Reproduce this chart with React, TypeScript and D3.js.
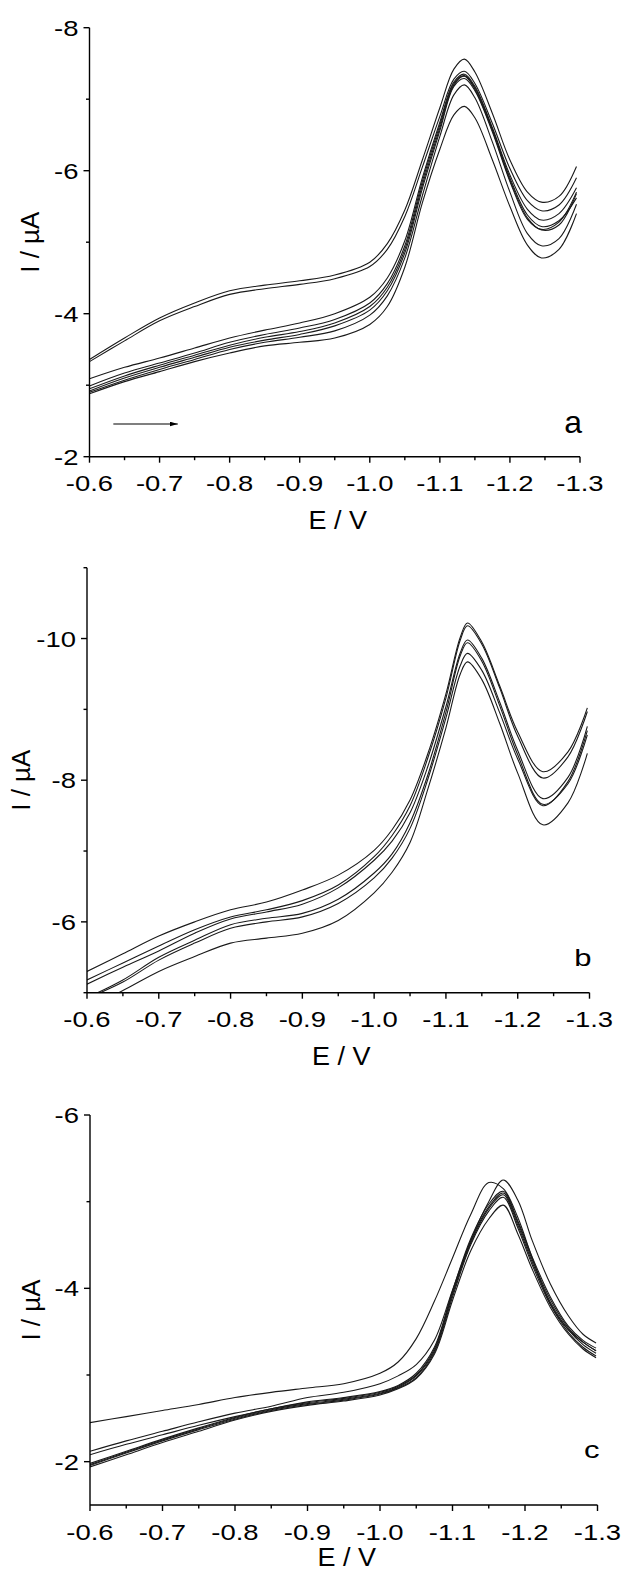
import React from "react";
import * as d3 from "d3";

// potentials (V) - the x axis runs from -0.6 to -1.3
const xMajor = [-0.6, -0.7, -0.8, -0.9, -1.0, -1.1, -1.2, -1.3];
const xMinor = [-0.65, -0.75, -0.85, -0.95, -1.05, -1.15, -1.25];

// panel a: 8 scans, current in uA
const gridA = [-0.6, -0.65, -0.7, -0.75, -0.8, -0.85, -0.9, -0.95, -1.0, -1.025, -1.05, -1.075, -1.1, -1.12, -1.135, -1.15, -1.175, -1.2, -1.225, -1.245, -1.27, -1.295];
const a1 = [-3.36, -3.66, -3.94, -4.15, -4.32, -4.4, -4.46, -4.54, -4.72, -4.98, -5.45, -6.15, -6.88, -7.42, -7.56, -7.38, -6.8, -6.15, -5.7, -5.56, -5.64, -6.06];
const a2 = [-3.33, -3.62, -3.9, -4.1, -4.27, -4.35, -4.41, -4.49, -4.66, -4.9, -5.36, -6.05, -6.76, -7.28, -7.39, -7.22, -6.66, -6.03, -5.58, -5.44, -5.52, -5.9];
const a3 = [-3.09, -3.25, -3.38, -3.52, -3.66, -3.77, -3.87, -4.0, -4.23, -4.5, -5.02, -5.9, -6.68, -7.24, -7.35, -7.18, -6.6, -5.94, -5.46, -5.31, -5.4, -5.76];
const a4 = [-2.99, -3.17, -3.31, -3.45, -3.6, -3.71, -3.8, -3.92, -4.15, -4.42, -4.95, -5.85, -6.64, -7.22, -7.33, -7.16, -6.58, -5.9, -5.38, -5.22, -5.3, -5.62];
const a5 = [-2.95, -3.13, -3.28, -3.42, -3.56, -3.67, -3.75, -3.87, -4.1, -4.37, -4.9, -5.8, -6.6, -7.2, -7.32, -7.14, -6.56, -5.87, -5.34, -5.17, -5.24, -5.68];
const a6 = [-2.92, -3.1, -3.25, -3.39, -3.53, -3.63, -3.71, -3.83, -4.05, -4.32, -4.85, -5.75, -6.56, -7.18, -7.29, -7.12, -6.54, -5.85, -5.32, -5.18, -5.28, -5.7];
const a7 = [-2.9, -3.07, -3.22, -3.36, -3.5, -3.6, -3.67, -3.76, -3.98, -4.25, -4.78, -5.65, -6.48, -7.06, -7.2, -7.02, -6.4, -5.7, -5.12, -4.95, -5.05, -5.53];
const a8 = [-2.88, -3.05, -3.19, -3.33, -3.45, -3.55, -3.6, -3.66, -3.85, -4.1, -4.65, -5.55, -6.3, -6.78, -6.9, -6.74, -6.15, -5.5, -4.96, -4.78, -4.9, -5.4];

// panel b: 6 scans
const gridB = [-0.6, -0.65, -0.7, -0.75, -0.8, -0.85, -0.9, -0.95, -1.0, -1.025, -1.05, -1.075, -1.1, -1.12, -1.13, -1.15, -1.175, -1.2, -1.235, -1.27, -1.297];
const b1 = [-5.3, -5.55, -5.8, -6.0, -6.17, -6.28, -6.45, -6.66, -7.01, -7.3, -7.72, -8.38, -9.22, -10.02, -10.22, -9.95, -9.33, -8.68, -8.12, -8.4, -9.02];
const b2 = [-5.18, -5.42, -5.66, -5.89, -6.07, -6.17, -6.3, -6.52, -6.92, -7.22, -7.64, -8.32, -9.16, -9.98, -10.18, -9.92, -9.3, -8.62, -8.03, -8.33, -8.97];
const b3 = [-5.12, -5.36, -5.59, -5.84, -6.04, -6.14, -6.25, -6.48, -6.87, -7.14, -7.54, -8.2, -9.04, -9.8, -9.98, -9.72, -9.1, -8.42, -7.74, -8.04, -8.76];
const b4 = [-4.93, -5.18, -5.5, -5.74, -5.96, -6.05, -6.12, -6.32, -6.69, -6.96, -7.4, -8.08, -8.96, -9.76, -9.94, -9.68, -9.05, -8.36, -7.66, -7.95, -8.64];
const b5 = [-4.92, -5.15, -5.46, -5.7, -5.91, -6.0, -6.07, -6.26, -6.62, -6.9, -7.32, -8.02, -8.88, -9.62, -9.79, -9.55, -8.95, -8.3, -7.64, -7.98, -8.7];
const b6 = [-4.78, -5.03, -5.3, -5.51, -5.7, -5.77, -5.84, -6.02, -6.41, -6.7, -7.12, -7.88, -8.74, -9.5, -9.67, -9.42, -8.8, -8.1, -7.37, -7.68, -8.38];

// panel c: 7 scans
const gridC = [-0.6, -0.65, -0.7, -0.75, -0.8, -0.85, -0.9, -0.95, -1.0, -1.025, -1.05, -1.075, -1.1, -1.125, -1.15, -1.17, -1.19, -1.21, -1.235, -1.26, -1.28, -1.298];
const c1 = [-2.45, -2.52, -2.59, -2.66, -2.74, -2.8, -2.85, -2.9, -3.02, -3.15, -3.42, -3.85, -4.35, -4.85, -5.22, -5.15, -4.82, -4.35, -3.82, -3.52, -3.38, -3.28];
const c2 = [-2.12, -2.24, -2.35, -2.46, -2.56, -2.64, -2.74, -2.8, -2.9, -2.99, -3.12, -3.4, -3.98, -4.55, -5.0, -5.25, -5.02, -4.55, -4.05, -3.68, -3.47, -3.37];
const c3 = [-2.08, -2.2, -2.31, -2.42, -2.52, -2.61, -2.69, -2.74, -2.81, -2.88, -3.02, -3.32, -3.97, -4.57, -4.97, -5.12, -4.78, -4.36, -3.9, -3.56, -3.4, -3.31];
const c4 = [-1.98, -2.12, -2.26, -2.39, -2.51, -2.61, -2.68, -2.73, -2.8, -2.87, -3.0, -3.3, -3.95, -4.54, -4.94, -5.1, -4.76, -4.33, -3.87, -3.54, -3.38, -3.28];
const c5 = [-1.965, -2.11, -2.25, -2.38, -2.5, -2.6, -2.67, -2.72, -2.79, -2.86, -2.99, -3.28, -3.93, -4.52, -4.92, -5.08, -4.73, -4.3, -3.84, -3.52, -3.35, -3.25];
const c6 = [-1.955, -2.1, -2.24, -2.37, -2.49, -2.59, -2.66, -2.71, -2.78, -2.85, -2.97, -3.26, -3.9, -4.5, -4.89, -5.05, -4.7, -4.27, -3.81, -3.49, -3.32, -3.22];
const c7 = [-1.94, -2.08, -2.22, -2.35, -2.48, -2.58, -2.65, -2.7, -2.77, -2.84, -2.96, -3.24, -3.86, -4.43, -4.8, -4.96, -4.63, -4.22, -3.78, -3.47, -3.3, -3.2];

// scan direction arrow in panel a (E, I)
const arrowA = [[-0.634, -2.457], [-0.726, -2.457]];

const font = "'Liberation Sans', Arial, sans-serif";
const stretch = 1.22; // the figure's text is drawn wider than it is tall

type PanelProps = {
  id: string;
  grid: number[];
  curves: number[][];
  left: number;
  right: number;
  top: number;
  bottom: number;
  yDomain: [number, number];
  yMajor: number[];
  yMinor: number[];
  letter: string;
  letterSize: number;
  letterStretch: number;
  letterY: number;
  yLabelX: number;
  xLabelY: number;
  children?: (x: d3.ScaleLinear<number, number>, y: d3.ScaleLinear<number, number>) => React.ReactNode;
};

const Panel = (p: PanelProps) => {
  const x = d3.scaleLinear().domain([-0.6, -1.3]).range([p.left, p.right]);
  const y = d3.scaleLinear().domain(p.yDomain).range([p.bottom, p.top]);
  const line = d3
    .line<number>()
    .x((_, i) => x(p.grid[i]))
    .y(d => y(d))
    .curve(d3.curveCatmullRom.alpha(0.5));
  const midY = (p.top + p.bottom) / 2;
  const midX = (p.left + p.right) / 2 + 3;
  return (
    <g>
      <clipPath id={p.id}>
        <rect x={p.left} y={p.top - 10} width={p.right - p.left + 2} height={p.bottom - p.top + 10} />
      </clipPath>
      <g clipPath={`url(#${p.id})`}>
        {p.curves.map((c, i) => (
          <path key={i} d={line(c) || ""} fill="none" stroke="#1a1a1a" strokeWidth={1.1} />
        ))}
      </g>
      <g stroke="#000" strokeWidth={1.4}>
        <line x1={p.left} x2={p.left} y1={p.top} y2={p.bottom} />
        <line x1={p.left} x2={p.right} y1={p.bottom} y2={p.bottom} />
        {xMajor.map(v => (
          <line key={"xM" + v} x1={x(v)} x2={x(v)} y1={p.bottom} y2={p.bottom + 6} />
        ))}
        {xMinor.map(v => (
          <line key={"xm" + v} x1={x(v)} x2={x(v)} y1={p.bottom} y2={p.bottom + 3.5} />
        ))}
        {p.yMajor.map(v => (
          <line key={"yM" + v} x1={p.left - 6} x2={p.left} y1={y(v)} y2={y(v)} />
        ))}
        {p.yMinor.map(v => (
          <line key={"ym" + v} x1={p.left - 3.5} x2={p.left} y1={y(v)} y2={y(v)} />
        ))}
      </g>
      <g fontFamily={font} fontSize={22.5} fill="#000">
        {xMajor.map(v => (
          <g key={"xt" + v} transform={`translate(${x(v)},${p.bottom + 34.5}) scale(${stretch},1)`}>
            <text textAnchor="middle">{v.toFixed(1)}</text>
          </g>
        ))}
        {p.yMajor.map(v => (
          <g key={"yt" + v} transform={`translate(${p.left - 11},${y(v) + 8}) scale(${stretch},1)`}>
            <text textAnchor="end">{String(v)}</text>
          </g>
        ))}
      </g>
      <g transform={`translate(${midX},${p.xLabelY}) scale(1.08,1)`}>
        <text textAnchor="middle" fontFamily={font} fontSize={25}>
          E / V
        </text>
      </g>
      <text
        transform={`translate(${p.yLabelX},${midY}) rotate(-90)`}
        textAnchor="middle"
        fontFamily={font}
        fontSize={26}
      >
        I / µA
      </text>
      <g transform={`translate(${p.right + 2},${p.letterY}) scale(${p.letterStretch},1)`}>
        <text textAnchor="end" fontFamily={font} fontSize={p.letterSize}>
          {p.letter}
        </text>
      </g>
      {p.children && p.children(x, y)}
    </g>
  );
};

const App = () => {
  return (
    <svg
      width={623}
      height={1573}
      style={{ position: "absolute", left: 0, top: 0, background: "#fff" }}
    >
      <rect width={623} height={1573} fill="#fff" />
      <defs>
        <marker id="arr" viewBox="0 0 10 6" refX={10} refY={3} markerWidth={8} markerHeight={5} orient="auto" markerUnits="userSpaceOnUse">
          <path d="M0,0 L10,3 L0,6 Z" fill="#000" />
        </marker>
      </defs>
      <Panel
        id="clipA"
        grid={gridA}
        curves={[a1, a2, a3, a4, a5, a6, a7, a8]}
        left={89.5}
        right={580}
        top={27.7}
        bottom={456.7}
        yDomain={[-2, -8]}
        yMajor={[-8, -6, -4, -2]}
        yMinor={[-7, -5, -3]}
        letter="a"
        letterSize={32}
        letterStretch={1}
        letterY={432.5}
        yLabelX={39}
        xLabelY={528.5}
      >
        {(x, y) => (
          <line
            x1={x(arrowA[0][0])}
            y1={y(arrowA[0][1])}
            x2={x(arrowA[1][0])}
            y2={y(arrowA[1][1])}
            stroke="#000"
            strokeWidth={1.1}
            markerEnd="url(#arr)"
          />
        )}
      </Panel>
      <Panel
        id="clipB"
        grid={gridB}
        curves={[b1, b2, b3, b4, b5, b6]}
        left={87}
        right={589.5}
        top={567.7}
        bottom={992.7}
        yDomain={[-5, -11]}
        yMajor={[-10, -8, -6]}
        yMinor={[-11, -9, -7, -5]}
        letter="b"
        letterSize={23}
        letterStretch={1.35}
        letterY={965.5}
        yLabelX={30}
        xLabelY={1064.5}
      />
      <Panel
        id="clipC"
        grid={gridC}
        curves={[c1, c2, c3, c4, c5, c6, c7]}
        left={90}
        right={597.5}
        top={1115}
        bottom={1505}
        yDomain={[-1.5, -6]}
        yMajor={[-6, -4, -2]}
        yMinor={[-5, -3]}
        letter="c"
        letterSize={23}
        letterStretch={1.35}
        letterY={1457.5}
        yLabelX={40}
        xLabelY={1566}
      />
    </svg>
  );
};

export default App;
